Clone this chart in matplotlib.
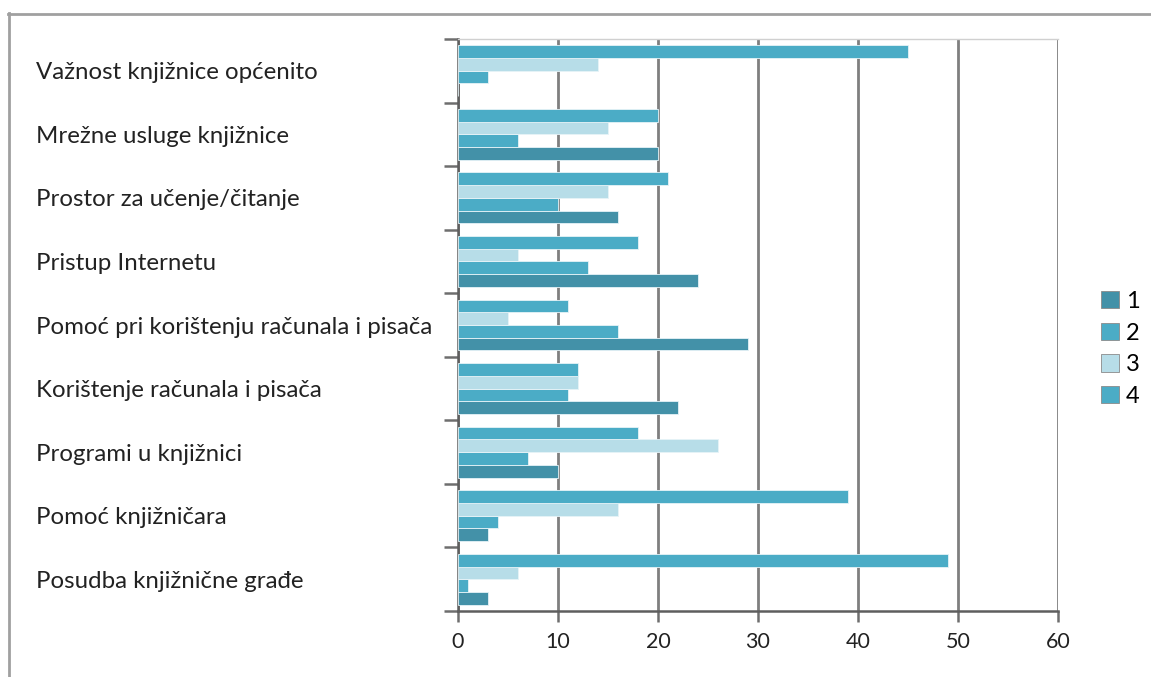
import matplotlib
matplotlib.use("Agg")
import matplotlib.pyplot as plt
from matplotlib.lines import Line2D
from matplotlib.patches import Patch
import numpy as np

plt.rcParams["font.family"] = ["Lato", "DejaVu Sans"]

categories = [
    "Važnost knjižnice općenito",
    "Mrežne usluge knjižnice",
    "Prostor za učenje/čitanje",
    "Pristup Internetu",
    "Pomoć pri korištenju računala i pisača",
    "Korištenje računala i pisača",
    "Programi u knjižnici",
    "Pomoć knjižničara",
    "Posudba knjižnične građe",
]

# answer counts per rating, one list per rating (same order as categories)
rating_1 = [0, 20, 16, 24, 29, 22, 10, 3, 3]
rating_2 = [3, 6, 10, 13, 16, 11, 7, 4, 1]
rating_3 = [14, 15, 15, 6, 5, 12, 26, 16, 6]
rating_4 = [45, 20, 21, 18, 11, 12, 18, 39, 49]

series_names = ["1", "2", "3", "4"]
series_colors = ["#4391a8", "#4bacc6", "#b7dde8", "#4bacc6"]
x_ticks = [0, 10, 20, 30, 40, 50, 60]

fig = plt.figure(figsize=(11.51, 6.77), dpi=100)
ax = fig.add_axes([458 / 1151, 1 - 611 / 677, 600 / 1151, 572 / 677])

# outer frame: only the left and top edges show
fig.add_artist(Line2D([9 / 1151, 9 / 1151], [0, 1 - 13 / 677], transform=fig.transFigure,
                      color="#a0a0a0", lw=2))
fig.add_artist(Line2D([8 / 1151, 1], [1 - 14 / 677, 1 - 14 / 677], transform=fig.transFigure,
                      color="#a0a0a0", lw=2))

y = np.arange(len(categories))
h = 0.2
all_series = [rating_1, rating_2, rating_3, rating_4]
offsets = [0.3, 0.1, -0.1, -0.3]
for vals, off, col in zip(all_series, offsets, series_colors):
    ax.barh(y + off, vals, height=h, color=col, edgecolor="#e6f3f7", linewidth=0.6, zorder=3)

ax.set_xlim(0, 60)
ax.set_ylim(len(categories) - 0.5, -0.5)

ax.set_xticks(x_ticks)
ax.set_xticklabels([str(t) for t in x_ticks], fontsize=15.5, color="#222222")
ax.tick_params(axis="x", length=8, width=1.8, color="#6e6e6e", pad=7)
ax.grid(axis="x", color="#7f7f7f", linewidth=2, zorder=1)

# category boundaries get tick marks, centers get the labels
ax.set_yticks(np.arange(len(categories) + 1) - 0.5)
ax.set_yticklabels([])
ax.tick_params(axis="y", which="major", length=10, width=1.8, color="#6e6e6e")
ax.set_yticks(y, minor=True)
ax.set_yticklabels(categories, minor=True, fontsize=17.3, color="#222222", ha="left")
ax.tick_params(axis="y", which="minor", length=0, pad=(458 - 36) * 0.72)

for side in ["left", "bottom"]:
    ax.spines[side].set_color("#5e5e5e")
    ax.spines[side].set_linewidth(1.8)
ax.spines["right"].set_visible(False)
ax.spines["top"].set_color("#d0d0d0")
ax.spines["top"].set_linewidth(1)

handles = [Patch(facecolor=c, edgecolor="#8a8a8a", linewidth=0.6) for c in series_colors]
fig.legend(handles, series_names, loc="center left", bbox_to_anchor=(1080 / 1151, 1 - 349 / 677),
           frameon=False, fontsize=17, handlelength=0.75, handleheight=0.75,
           handletextpad=0.3, labelspacing=0.45)

fig.savefig("out.png", dpi=100, facecolor="white")
